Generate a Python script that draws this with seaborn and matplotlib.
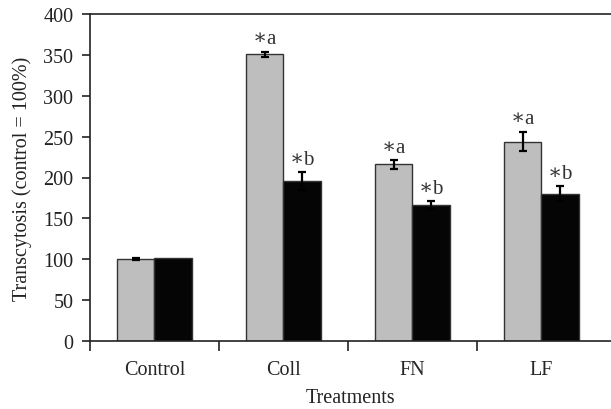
import matplotlib
matplotlib.use("Agg")
import matplotlib.pyplot as plt
import seaborn as sns
import pandas as pd

treatments = ["Control", "Coll", "FN", "LF"]
series = ["A", "B"]
values_a = [100, 351, 216, 244]
values_b = [101, 196, 166, 180]
err_a = [1, 3, 5, 12]
err_b = [0, 11, 5, 9]
labels_a = ["", "a", "a", "a"]
labels_b = ["", "b", "b", "b"]

df = pd.DataFrame({
    "Treatments": treatments * 2,
    "series": [series[0]] * 4 + [series[1]] * 4,
    "value": values_a + values_b,
})

sns.set_style("ticks")
plt.rcParams["font.family"] = ["Liberation Serif", "DejaVu Serif"]
plt.rcParams["mathtext.fontset"] = "dejavuserif"

fig = plt.figure(figsize=(6.11, 4.10), dpi=100)
ax = fig.add_axes([90 / 611, 68 / 410, 521 / 611, 327 / 410])

sns.barplot(data=df, x="Treatments", y="value", hue="series",
            palette=["#bebebe", "#050505"], width=0.58, gap=0,
            edgecolor="#333333", linewidth=1.0, legend=False, ax=ax)

for cont, errs, labs in zip(ax.containers, [err_a, err_b], [labels_a, labels_b]):
    for bar, e, lab in zip(cont, errs, labs):
        cx = bar.get_x() + bar.get_width() / 2
        h = bar.get_height()
        if e > 0:
            ax.errorbar(cx, h, yerr=e, fmt="none", ecolor="black",
                        elinewidth=1.6, capsize=3, capthick=1.6)
        if lab:
            ax.text(cx, h + e + 4, r"$\ast$" + lab, ha="center", va="bottom",
                    fontsize=15, color="#333333")

ax.set_ylim(0, 400)
ax.set_xlim(-0.5, 3.54)
ax.set_yticks(range(0, 401, 50))
ax.set_xticks([-0.5, 0.5, 1.5, 2.5])
ax.set_xticklabels([])
ax.set_xticks(range(4), minor=True)
ax.set_xticklabels(treatments, minor=True)
ax.tick_params(axis="x", which="minor", length=0, pad=14, labelsize=14.5)
ax.tick_params(axis="x", which="major", length=7, width=1.2, color="#222222")
ax.tick_params(axis="y", length=6, width=1.2, pad=6, labelsize=14.5,
               color="#222222", labelcolor="#222222")
ax.tick_params(axis="x", labelcolor="#222222")

ax.set_xlabel("Treatments", fontsize=14.5, color="#222222", labelpad=6)
ax.set_ylabel("Transcytosis (control = 100%)", fontsize=14.5, color="#222222",
              labelpad=8)

for s in ["left", "bottom", "top"]:
    ax.spines[s].set_visible(True)
    ax.spines[s].set_linewidth(1.2)
    ax.spines[s].set_color("#222222")
ax.spines["right"].set_visible(False)

fig.savefig("out.png", dpi=100)
